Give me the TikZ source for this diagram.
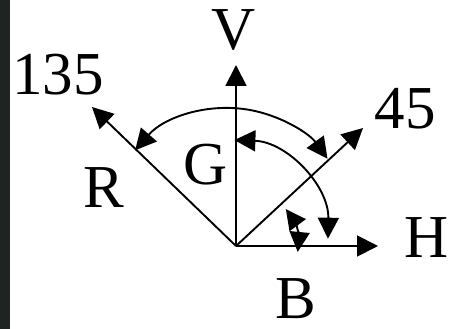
\documentclass[tikz,border=0pt]{standalone}
\usepackage{fontspec}
\setmainfont{Liberation Serif}
\usetikzlibrary{arrows.meta}
\definecolor{strip}{RGB}{30,36,33}
\begin{document}
\begin{tikzpicture}[x=1pt,y=1pt,
  ln/.style={line width=1.9pt},
  tip/.style={-{Triangle[length=21pt,width=21pt]}},
  dtip/.style={{Triangle[length=21pt,width=21pt]}-{Triangle[length=21pt,width=21pt]}},
  stip/.style={{Triangle[length=20pt,width=20pt]}-{Triangle[length=20pt,width=20pt]}},
  lbl/.style={inner sep=0pt,font=\fontsize{61}{61}\selectfont}]
\useasboundingbox (0,0) rectangle (461,329);
\fill[white] (0,0) rectangle (461,329);
\fill[strip] (0,0) rectangle (10,329);
\coordinate (O) at (236,83);
\coordinate (tV) at (236,264);
\coordinate (tH) at (378,83);
\coordinate (t45) at (363,201);
\coordinate (t135) at (92,222);
\draw[ln,tip] (O) -- (tV);
\draw[ln,tip] (O) -- (tH);
\draw[ln,tip] (O) -- (t45);
\draw[ln,tip] (O) -- (t135);
% big arc, center (228,98), r=123
\draw[ln,dtip] (228,98)++(139:123) arc[start angle=139,end angle=36,radius=123];
% second arc, center (231,92), r=97
\draw[ln,dtip] (231,92)++(88:97) arc[start angle=88,end angle=-1,radius=97];
% small arc, center O, r=62
\draw[ln,stip] (O)++(36.5:62) arc[start angle=36.5,end angle=-5.5,radius=62];
\node[lbl] (V) at (234,299) {V};
\node[lbl] (n135) at (58,254) {135};
\node[lbl] (n45) at (405,220) {45};
\node[lbl] (R) at (104,141) {R};
\node[lbl] (G) at (206,164) {G};
\node[lbl] (H) at (427,91) {H};
\node[lbl] (B) at (296,30) {B};
\end{tikzpicture}
\end{document}
